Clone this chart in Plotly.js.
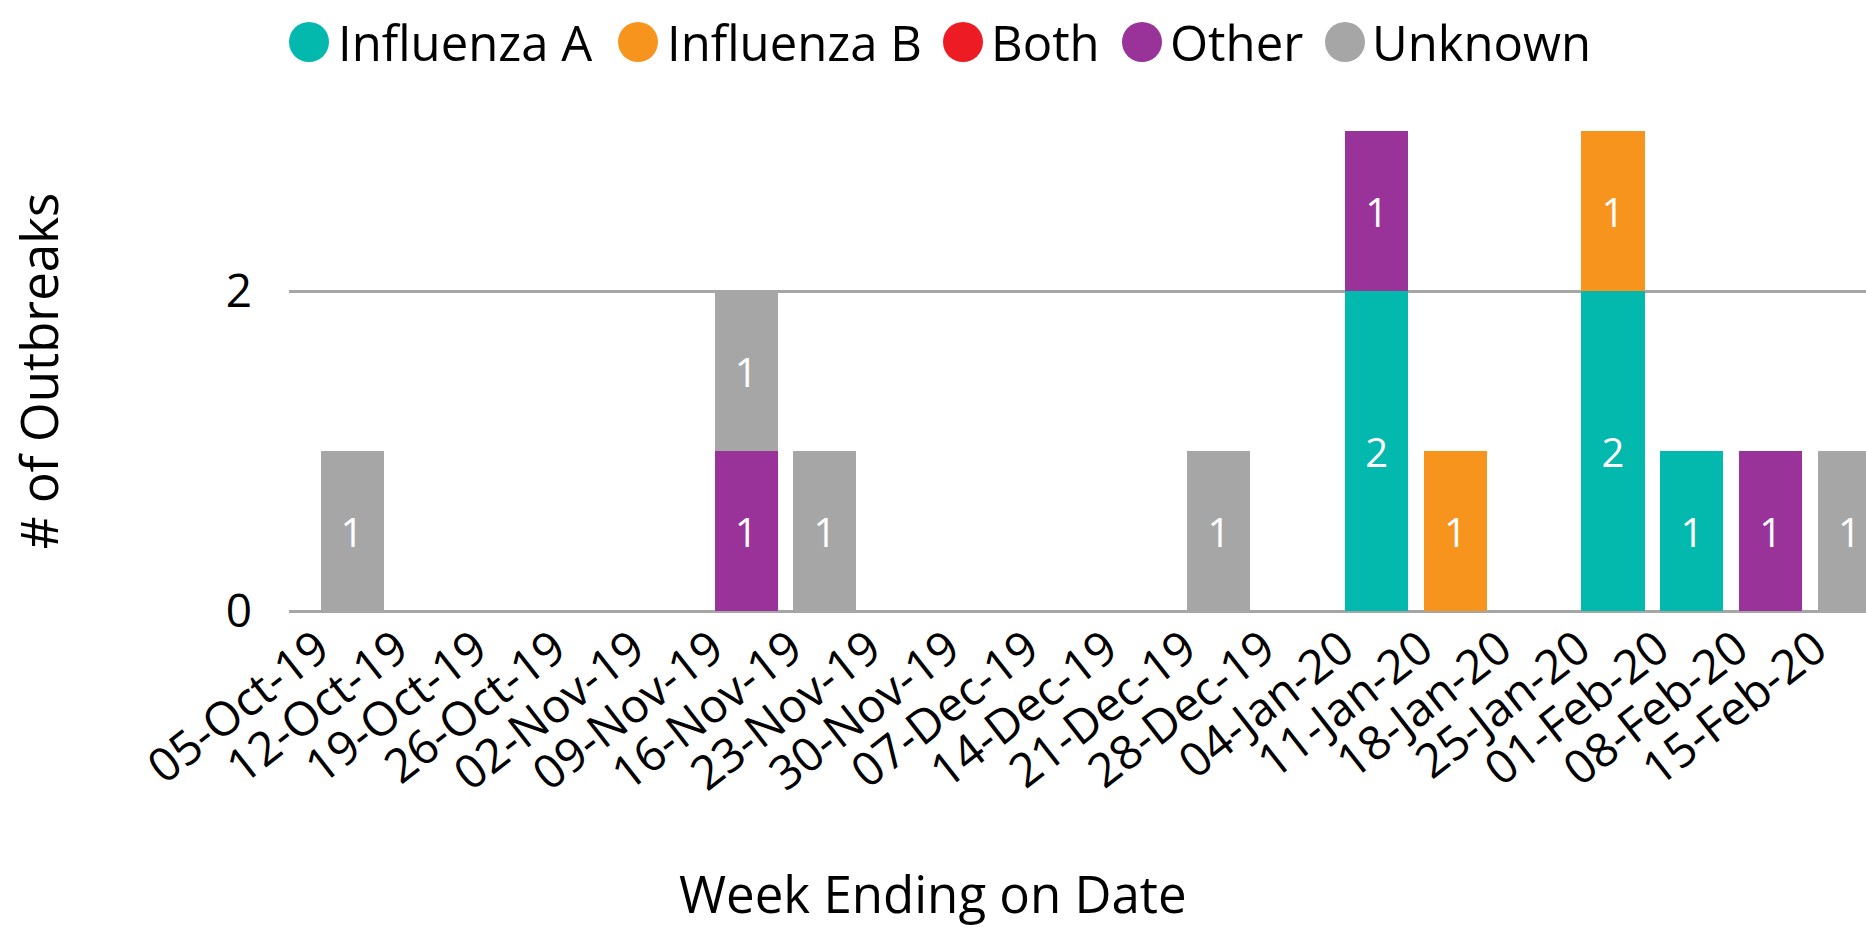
<!DOCTYPE html>
<html>
<head>
<meta charset="utf-8">
<script src="https://cdn.plot.ly/plotly-3.0.1.min.js"></script>
<style>
  html, body { margin: 0; padding: 0; background: #ffffff; }
  #chart { width: 1866px; height: 930px; }
</style>
</head>
<body>
<div id="chart"></div>
<script>
// ---- data ----
const weeks = ["05-Oct-19","12-Oct-19","19-Oct-19","26-Oct-19","02-Nov-19","09-Nov-19","16-Nov-19",
  "23-Nov-19","30-Nov-19","07-Dec-19","14-Dec-19","21-Dec-19","28-Dec-19","04-Jan-20",
  "11-Jan-20","18-Jan-20","25-Jan-20","01-Feb-20","08-Feb-20","15-Feb-20"];
const influenzaA = [0,0,0,0,0,0,0,0,0,0,0,0,0,2,0,0,2,1,0,0];
const influenzaB = [0,0,0,0,0,0,0,0,0,0,0,0,0,0,1,0,1,0,0,0];
const both       = [0,0,0,0,0,0,0,0,0,0,0,0,0,0,0,0,0,0,0,0];
const other      = [0,0,0,0,0,1,0,0,0,0,0,0,0,1,0,0,0,0,1,0];
const unknown    = [1,0,0,0,0,1,1,0,0,0,0,1,0,0,0,0,0,0,0,1];
const seriesNames = ["Influenza A","Influenza B","Both","Other","Unknown"];
const seriesValues = [influenzaA, influenzaB, both, other, unknown];
const seriesColors = ["#03B8AC","#F7941E","#ED1C24","#993399","#A6A6A6"];
const yTickVals = [0, 2];
const yTitle = "# of Outbreaks";
const xTitle = "Week Ending on Date";

// ---- geometry (pixels) ----
const W = 1866, H = 930;
const M = {l: 289, r: 0, t: 131, b: 319};
const plotW = W - M.l - M.r, plotH = H - M.t - M.b;
const FONT = "Open Sans, Noto Sans, sans-serif";
const px2x = p => (p - M.l) / plotW;
const px2y = p => (H - M.b - p) / plotH;

const traces = seriesNames.map((name, i) => ({
  type: "bar",
  name: name,
  x: weeks,
  y: seriesValues[i],
  text: seriesValues[i].map(v => v > 0 ? String(v) : ""),
  textposition: "inside",
  insidetextanchor: "middle",
  textfont: {family: FONT, size: 40, color: "#ffffff"},
  marker: {color: seriesColors[i], line: {width: 0}},
  showlegend: false,
  hoverinfo: "x+y+name"
}));

// custom legend: circle + text
const legendCircleX = [309, 638, 963, 1142, 1345];
const legendTextX   = [336, 665, 989, 1168, 1370];
const legendY = 42;
const shapes = seriesNames.map((n, i) => ({
  type: "circle", xref: "paper", yref: "paper",
  xsizemode: "pixel", ysizemode: "pixel",
  xanchor: px2x(legendCircleX[i]), yanchor: px2y(legendY),
  x0: -20, x1: 20, y0: -20, y1: 20,
  fillcolor: seriesColors[i], line: {width: 0}
}));
const annotations = seriesNames.map((n, i) => ({
  text: n, xref: "paper", yref: "paper",
  x: px2x(legendTextX[i]), y: px2y(legendY),
  xanchor: "left", yanchor: "middle", showarrow: false,
  font: {family: FONT, size: 49, color: "#000000"}
}));
annotations.push({
  text: xTitle, xref: "paper", yref: "paper",
  x: px2x(933), y: px2y(893), xanchor: "center", yanchor: "middle",
  showarrow: false, font: {family: FONT, size: 51, color: "#000000"}
});

const layout = {
  width: W, height: H,
  margin: M,
  paper_bgcolor: "#ffffff", plot_bgcolor: "#ffffff",
  barmode: "stack",
  bargap: 0.2,
  showlegend: false,
  font: {family: FONT, color: "#000000"},
  xaxis: {
    type: "category",
    range: [-0.8, 19.21],
    tickangle: -38,
    tickfont: {family: FONT, size: 47, color: "#000000"},
    showgrid: false, zeroline: false, showline: false, ticks: "",
    ticklabelshift: -34,
    ticklabelstandoff: 0,
    fixedrange: true
  },
  yaxis: {
    range: [0, 3],
    tickvals: yTickVals,
    ticktext: yTickVals.map(String),
    tickfont: {family: FONT, size: 46, color: "#000000"},
    showgrid: true, gridcolor: "#A6A6A6", gridwidth: 3,
    zeroline: true, zerolinecolor: "#A6A6A6", zerolinewidth: 3,
    showline: false, ticks: "",
    ticklabelstandoff: 36,
    title: {text: yTitle, font: {family: FONT, size: 51, color: "#000000"}, standoff: 150},
    fixedrange: true
  },
  shapes: shapes,
  annotations: annotations
};

Plotly.newPlot("chart", traces, layout, {displayModeBar: false, staticPlot: true});
</script>
</body>
</html>
